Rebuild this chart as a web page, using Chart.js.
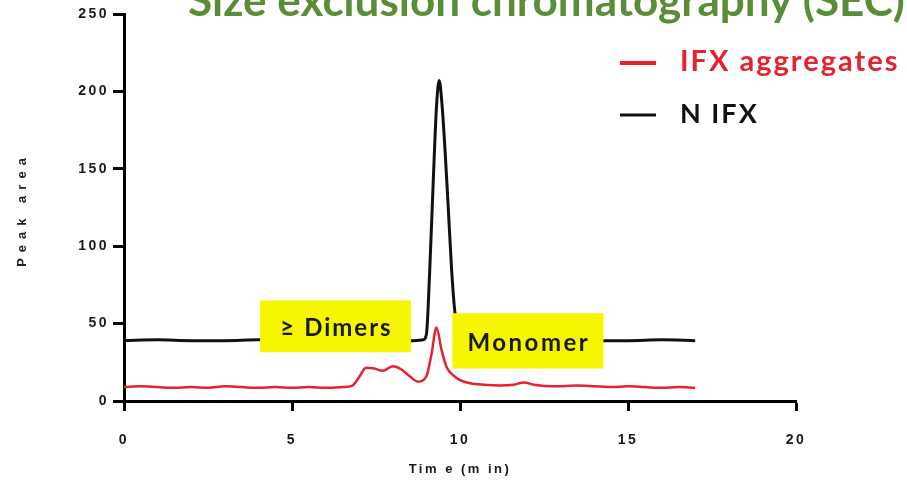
<!DOCTYPE html>
<html>
<head>
<meta charset="utf-8">
<title>Size exclusion chromatography (SEC)</title>
<script src="https://cdn.jsdelivr.net/npm/chart.js@4.4.1/dist/chart.umd.min.js"></script>
<style>
  html, body { margin: 0; padding: 0; background: #ffffff; }
  #wrap { position: relative; width: 907px; height: 486px; }
  canvas { display: block; }
</style>
</head>
<body>
<div id="wrap"><canvas id="sec" width="907" height="486"></canvas></div>
<script>
// Chromatogram traces (time in minutes, peak area)
const timeAggregates = [0, 0.5, 1, 1.5, 2, 2.5, 3, 3.5, 4, 4.5, 5, 5.5, 6, 6.5, 6.8, 7.0, 7.2, 7.45, 7.7, 8.0, 8.25, 8.5, 8.75, 9.0, 9.15, 9.3, 9.45, 9.6, 9.8, 10.0, 10.3, 10.7, 11.2, 11.6, 11.9, 12.2, 12.8, 13.5, 14, 14.5, 15, 15.5, 16, 16.5, 17];
const areaAggregates = [9, 9.5, 9, 8.5, 9, 8.5, 9.5, 9, 8.5, 9, 8.5, 9, 8.5, 9, 10, 15.5, 21.5, 21, 19.5, 22.5, 20.5, 16, 12.5, 16, 30, 47.5, 33, 22, 16.5, 13.5, 11.5, 10.5, 10, 10.5, 12, 10.5, 9.5, 10, 9.5, 9, 9.5, 9, 8.5, 9, 8.5];

const timeNative = [0, 1, 2, 3, 4, 5, 6, 7, 8, 8.6, 8.9, 9.0, 9.1, 9.2, 9.3, 9.38, 9.47, 9.56, 9.65, 9.75, 9.85, 10.0, 10.2, 10.5, 11, 12, 13, 14, 15, 16, 17];
const areaNative = [39, 39.5, 39, 39, 39.5, 39, 39, 39.5, 39, 39, 39.5, 43, 85, 140, 190, 207, 190, 160, 125, 85, 57, 45, 41, 39.5, 39, 39, 39.5, 39, 39, 39.5, 39];

const seriesNames = ['IFX aggregates', 'N IFX'];
const seriesColors = ['#e5222e', '#111111'];

const xTicks = [0, 5, 10, 15, 20];
const yTicks = [0, 50, 100, 150, 200, 250];

const titleText = 'Size exclusion chromatography (SEC)';
const xTitle = 'Tim e (m in)';
const yTitle = 'Peak area';

// Highlighted fraction labels, placed in data coordinates
const fractionLabels = [
  { text: '\u2265 Dimers', from: [4.05, 31.5], to: [8.54, 65] },
  { text: 'Monomer', from: [9.77, 21], to: [14.27, 56.7] }
];

const toPoints = (xs, ys) => xs.map((x, i) => ({ x, y: ys[i] }));

const boxPlugin = {
  id: 'fractionBoxes',
  afterDatasetsDraw(chart) {
    const { ctx, scales: { x, y } } = chart;
    ctx.save();
    fractionLabels.forEach((b, i) => {
      const l = x.getPixelForValue(b.from[0]);
      const r = x.getPixelForValue(b.to[0]);
      const t = y.getPixelForValue(b.to[1]);
      const btm = y.getPixelForValue(b.from[1]);
      ctx.fillStyle = '#f6f600';
      ctx.fillRect(l, t, r - l, btm - t);
      ctx.letterSpacing = i === 0 ? '2px' : '2.5px';
      ctx.fillStyle = '#1a1a1a';
      ctx.font = 'bold 24px Lato';
      ctx.textAlign = 'center';
      ctx.textBaseline = 'middle';
      ctx.fillText(b.text, (l + r) / 2 + 1, (t + btm) / 2 + 2);
    });
    ctx.restore();
  }
};

const headerPlugin = {
  id: 'headerAndKey',
  afterDraw(chart) {
    const { ctx, chartArea } = chart;
    ctx.save();
    ctx.letterSpacing = '0px';
    // Title, fitted between its left and right ends
    let size = 36;
    ctx.font = 'bold ' + size + 'px Lato';
    const w = ctx.measureText(titleText).width;
    size = size * 717 / w;
    ctx.font = 'bold ' + size.toFixed(2) + 'px Lato';
    ctx.fillStyle = '#5a8d38';
    ctx.textAlign = 'left';
    ctx.textBaseline = 'alphabetic';
    ctx.fillText(titleText, 188, 16);

    // Series key
    const rows = [63, 115];
    ctx.letterSpacing = '2px';
    chart.data.datasets.forEach((ds, i) => {
      const yy = rows[i];
      ctx.strokeStyle = ds.borderColor;
      ctx.lineWidth = i === 0 ? 4 : 3;
      ctx.beginPath();
      ctx.moveTo(620, yy);
      ctx.lineTo(656, yy);
      ctx.stroke();
      ctx.fillStyle = ds.borderColor;
      ctx.font = 'bold ' + (i === 0 ? 29 : 27) + 'px Lato';
      ctx.textBaseline = 'middle';
      ctx.fillText(ds.label, 680, yy - 1);
    });

    // Vertical axis title, widely letter-spaced
    ctx.letterSpacing = '6px';
    ctx.font = 'bold 13px "Liberation Sans"';
    ctx.fillStyle = '#222';
    ctx.translate(22, (chartArea.top + chartArea.bottom) / 2 + 5);
    ctx.rotate(-Math.PI / 2);
    ctx.textAlign = 'center';
    ctx.textBaseline = 'middle';
    ctx.fillText(yTitle, 3, 0);
    ctx.restore();
  }
};

const spacingPlugin = {
  id: 'axisLetterSpacing',
  beforeDraw(chart) { chart.ctx.letterSpacing = '2.5px'; }
};

const axisFont = { family: 'Liberation Sans', weight: 'bold', size: 14 };

new Chart(document.getElementById('sec'), {
  type: 'line',
  data: {
    datasets: [
      {
        label: seriesNames[0],
        data: toPoints(timeAggregates, areaAggregates),
        borderColor: seriesColors[0],
        borderWidth: 2.5,
        pointRadius: 0,
        cubicInterpolationMode: 'monotone'
      },
      {
        label: seriesNames[1],
        data: toPoints(timeNative, areaNative),
        borderColor: seriesColors[1],
        borderWidth: 3,
        pointRadius: 0,
        cubicInterpolationMode: 'monotone'
      }
    ]
  },
  options: {
    responsive: false,
    animation: false,
    devicePixelRatio: 1,
    layout: { padding: { top: 14, right: 111, left: 0, bottom: 0 } },
    plugins: { legend: { display: false }, tooltip: { enabled: false }, title: { display: false } },
    scales: {
      x: {
        type: 'linear',
        min: 0, max: 20,
        afterBuildTicks: s => { s.ticks = xTicks.map(v => ({ value: v })); },
        afterFit: s => { s.height = 85; },
        ticks: { font: axisFont, color: '#1a1a1a', padding: 21, maxRotation: 0 },
        border: { color: '#000', width: 3 },
        grid: { drawOnChartArea: false, drawTicks: true, tickLength: 10, tickWidth: 3, tickColor: '#000' },
        title: { display: true, text: xTitle, font: { family: 'Liberation Sans', weight: 'bold', size: 13 }, color: '#1a1a1a', padding: { top: 0, bottom: 9 } }
      },
      y: {
        type: 'linear',
        min: 0, max: 250,
        afterBuildTicks: s => { s.ticks = yTicks.map(v => ({ value: v })); },
        afterFit: s => { s.width = 124; },
        ticks: { font: axisFont, color: '#1a1a1a', padding: 4 },
        border: { color: '#000', width: 3 },
        grid: { drawOnChartArea: false, drawTicks: true, tickLength: 11, tickWidth: 3, tickColor: '#000' },
        title: { display: false }
      }
    }
  },
  plugins: [spacingPlugin, boxPlugin, headerPlugin]
});
</script>
</body>
</html>
